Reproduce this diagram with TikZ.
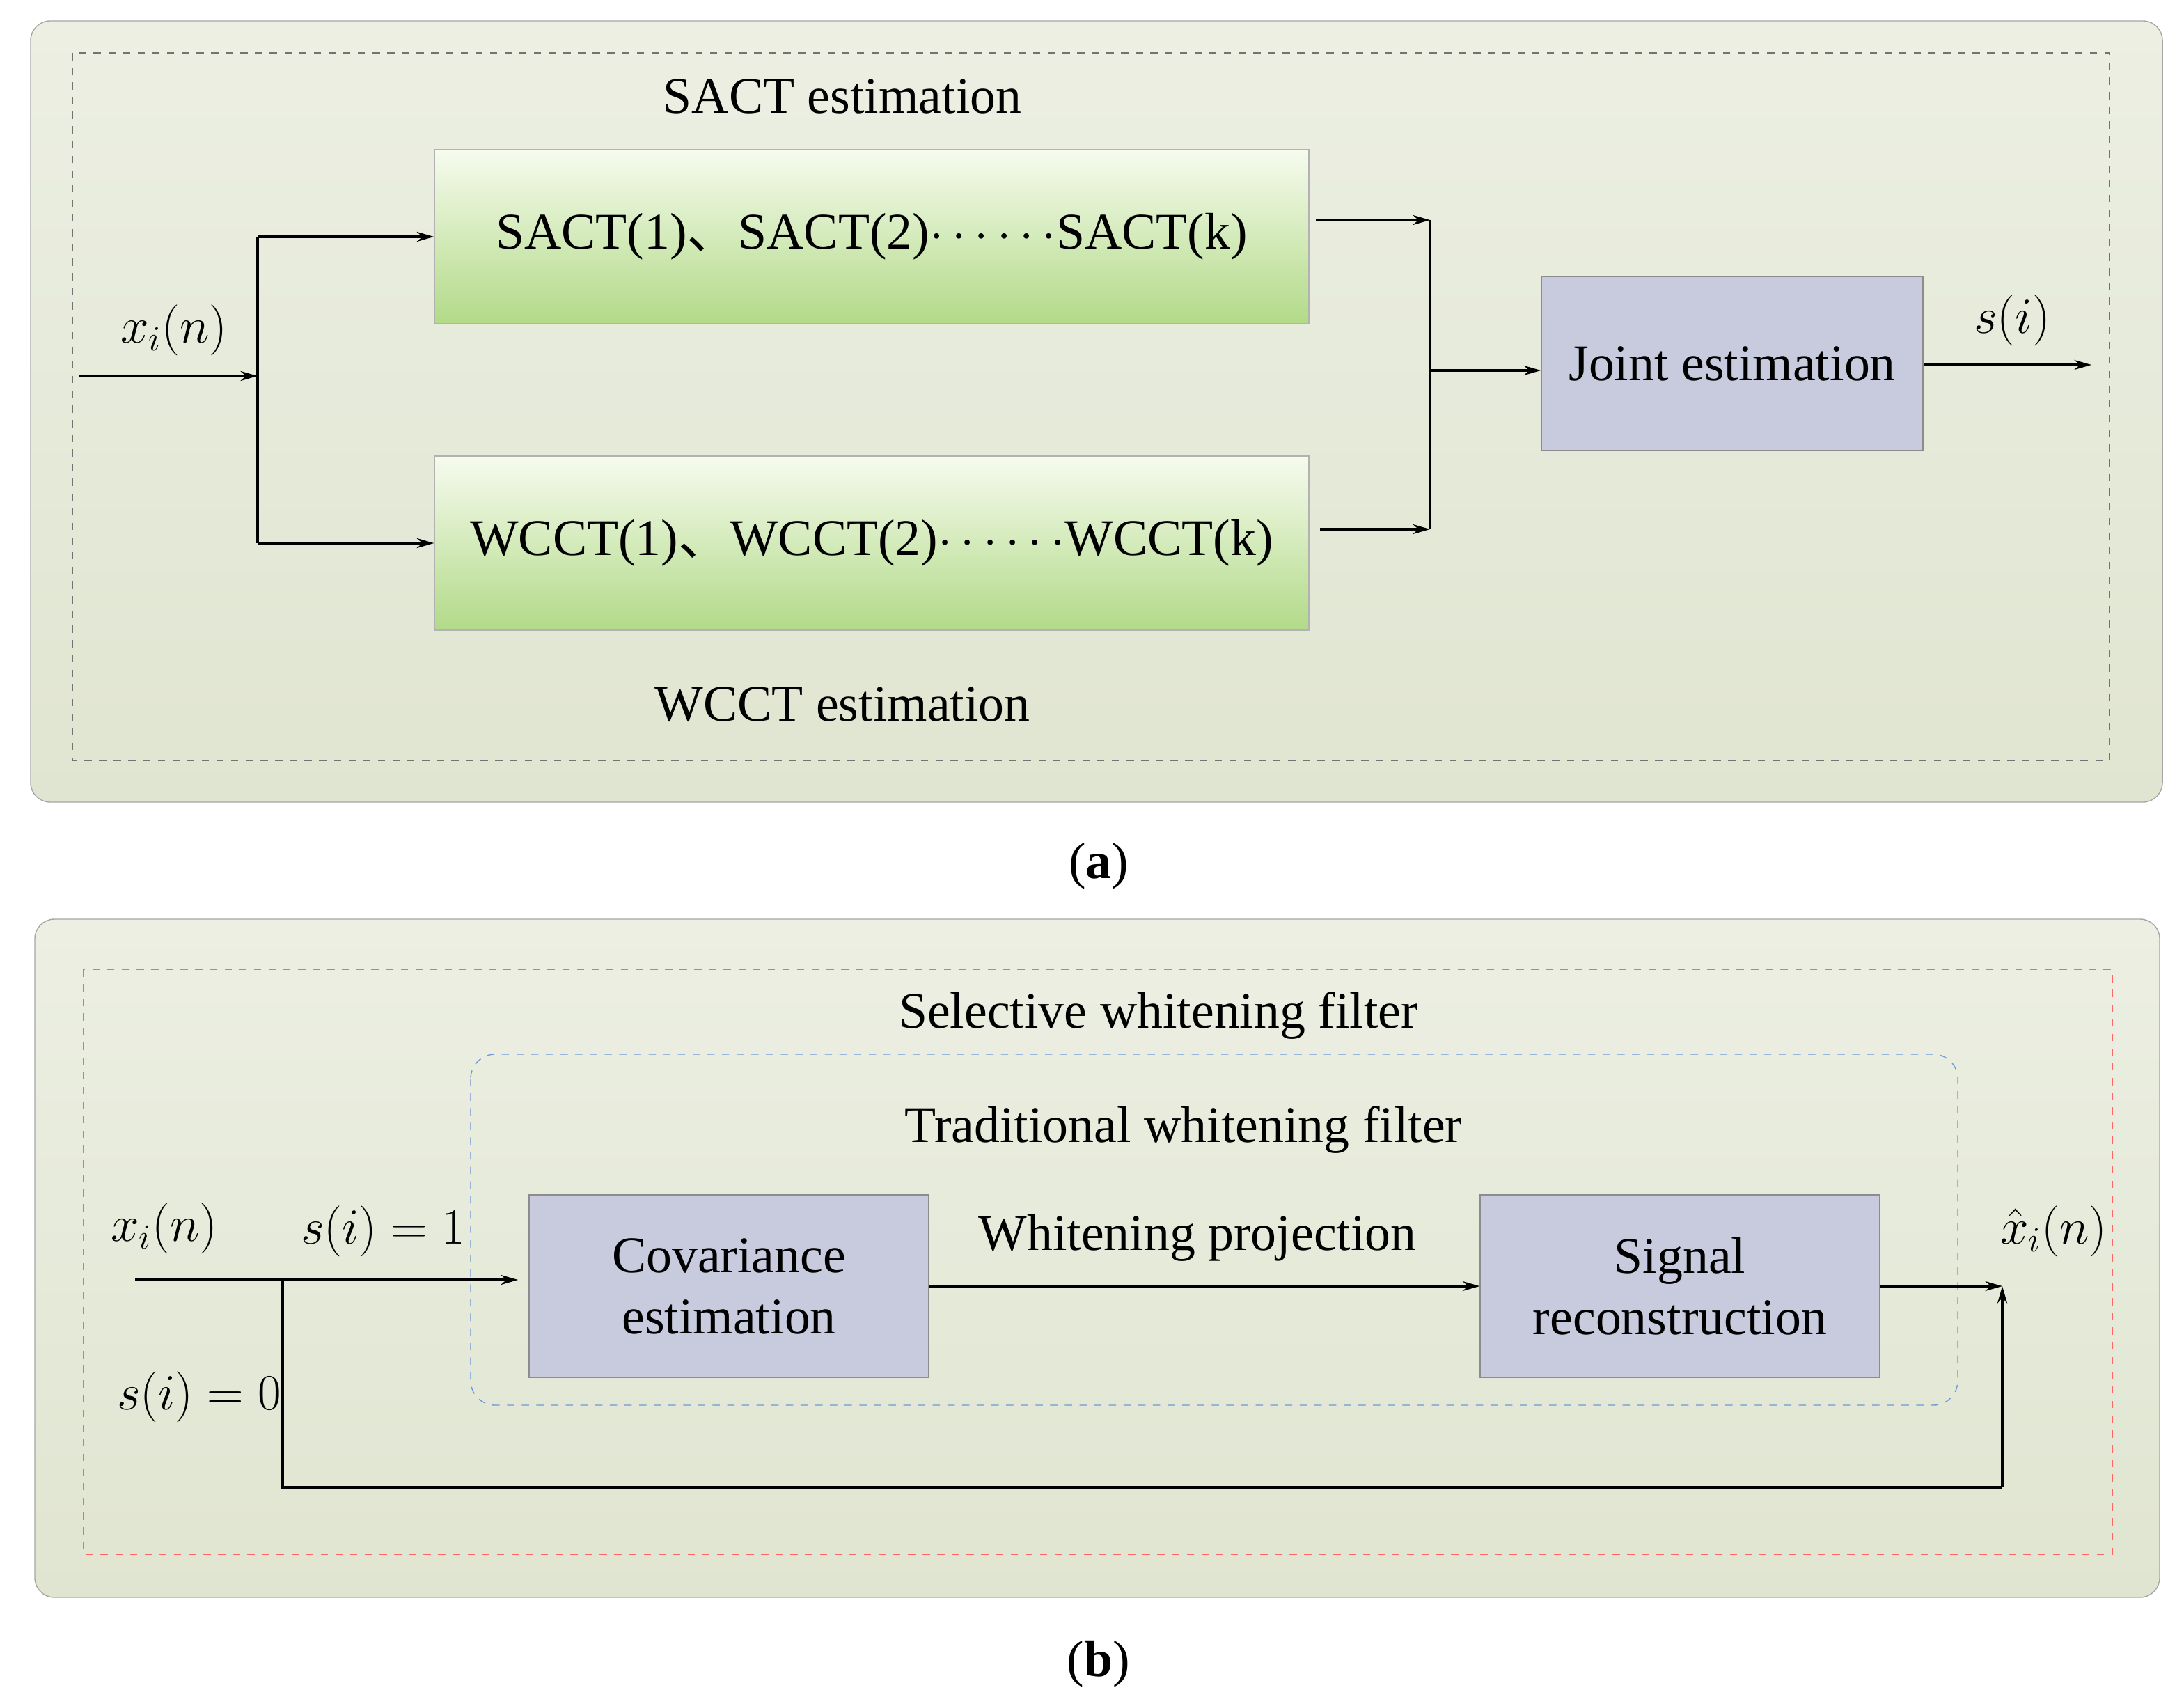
\documentclass[tikz,border=0pt]{standalone}
\usepackage{fontspec}
\setmainfont{Liberation Serif}
\newfontfamily\cjk{Noto Sans CJK SC}
\usetikzlibrary{arrows.meta}
\definecolor{pantop}{RGB}{236,239,226}
\definecolor{panbot}{RGB}{224,229,209}
\definecolor{gtop}{RGB}{246,251,238}
\definecolor{gbot}{RGB}{178,218,136}
\definecolor{lav}{RGB}{200,203,222}
\begin{document}
\begin{tikzpicture}[x=0.02cm,y=-0.02cm,
  txt/.style={font=\fontsize{21}{24}\selectfont},
  panel/.style={draw=black!35,rounded corners=8pt,top color=pantop,bottom color=panbot},
  gbox/.style={draw=black!30,top color=gtop,bottom color=gbot,minimum width=628*0.02cm,minimum height=125*0.02cm,inner sep=0pt,font=\fontsize{21}{24}\selectfont},
  bbox/.style={draw=black!45,fill=lav,minimum width=287*0.02cm,minimum height=131*0.02cm,inner sep=0pt,align=center,font=\fontsize{21}{25}\selectfont},
  ar/.style={-{Stealth[length=7pt,width=4pt]},line width=0.9pt},
  ln/.style={line width=0.9pt}]
\useasboundingbox (0,0) rectangle (1568.5,1224.5);
% panel a
\draw[panel] (22,15) rectangle (1553,576);
\draw[dashed,black!55] (52,38) rectangle (1515,546);
\node[txt] (sacte) at (605,69) {SACT estimation};
\node[gbox] (sact) at (626,170) {SACT(1){\cjk 、}SACT(2)$\cdots\cdots$SACT(k)};
\node[gbox] (wcct) at (626,390) {WCCT(1){\cjk 、}WCCT(2)$\cdots\cdots$WCCT(k)};
\node[txt] (wccte) at (605,506) {WCCT estimation};
\node[bbox,minimum width=274*0.02cm,minimum height=125*0.02cm] (joint) at (1244,261) {Joint estimation};
\coordinate (ina) at (57,270);
\coordinate (spa) at (185,270);
\coordinate (m1) at (1027,158);
\coordinate (m2) at (1027,380);
\coordinate (mj) at (1027,266);
\coordinate (outa) at (1502,262);
\draw[ar] (ina) -- (spa);
\draw[ln] (185,170) -- (185,390);
\draw[ar] (185,170) -- (sact.west);
\draw[ar] (185,390) -- (wcct.west);
\draw[ar] (945,158) -- (m1);
\draw[ar] (948,380) -- (m2);
\draw[ln] (m1) -- (m2);
\draw[ar] (mj) -- (joint.west |- mj);
\draw[ar] (joint.east |- outa) -- (outa);
\node[txt] (xa) at (125,237) {$x_i(n)$};
\node[txt] (sa) at (1445,230) {$s(i)$};
\node[txt] (la) at (789,622) {(\textbf{a})};
% panel b
\draw[panel] (25,660) rectangle (1551,1147);
\draw[dashed,red!60] (60,696) rectangle (1517,1116);
\draw[dashed,cyan!50!blue!60,rounded corners=10pt] (338,757) rectangle (1406,1009);
\node[txt] (swf) at (832,729) {Selective whitening filter};
\node[txt] (twf) at (850,811) {Traditional whitening filter};
\node[bbox] (cov) at (523.5,923.5) {Covariance\\estimation};
\node[bbox] (sig) at (1206.5,923.5) {Signal\\reconstruction};
\node[txt] (wp) at (860,889) {Whitening projection};
\draw[ar] (cov.east) -- (sig.west);
\coordinate (inb) at (97,919);
\coordinate (spb) at (203,919);
\coordinate (outb) at (1438,923.5);
\draw[ar] (inb) -- (372,919);
\draw[ln] (spb) -- (203,1068) -- (1438,1068);
\draw[ar] (1438,1068) -- (outb);
\draw[ar] (sig.east) -- (outb);
\node[txt] (xb) at (118,882) {$x_i(n)$};
\node[txt] (s1) at (275,884) {$s(i)=1$};
\node[txt] (s0) at (143,1003) {$s(i)=0$};
\node[txt] (xh) at (1475,884) {$\hat{x}_i(n)$};
\node[txt] (lb) at (789,1195) {(\textbf{b})};
\end{tikzpicture}
\end{document}
